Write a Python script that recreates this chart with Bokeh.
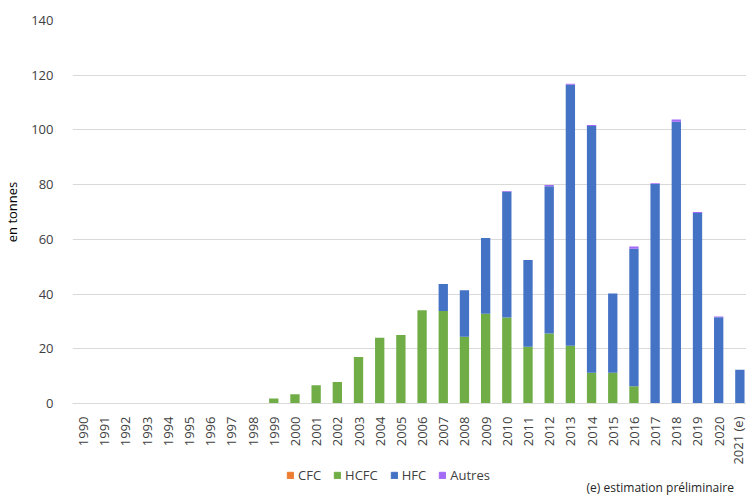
import math
from bokeh.plotting import figure
from bokeh.layouts import column
from bokeh.models import Range1d, FixedTicker, Legend, Label
from bokeh.embed import file_html
from bokeh.resources import INLINE

years = ["1990", "1991", "1992", "1993", "1994", "1995", "1996", "1997", "1998", "1999",
         "2000", "2001", "2002", "2003", "2004", "2005", "2006", "2007", "2008", "2009",
         "2010", "2011", "2012", "2013", "2014", "2015", "2016", "2017", "2018", "2019",
         "2020", "2021 (e)"]
cfc = [0] * 32
hcfc = [0, 0, 0, 0, 0, 0, 0, 0, 0, 1.8,
        3.4, 6.7, 7.9, 17.0, 24.0, 25.0, 34.1, 33.8, 24.4, 32.8,
        31.4, 20.7, 25.6, 21.1, 11.2, 11.2, 6.3, 0, 0, 0,
        0, 0]
hfc = [0, 0, 0, 0, 0, 0, 0, 0, 0, 0,
       0, 0, 0, 0, 0, 0, 0, 9.9, 17.0, 27.7,
       46.0, 31.8, 53.8, 95.4, 90.2, 29.0, 50.3, 80.2, 103.0, 69.6,
       31.5, 12.3]
autres = [0, 0, 0, 0, 0, 0, 0, 0, 0, 0,
          0, 0, 0, 0, 0, 0, 0, 0, 0, 0,
          0.3, 0, 0.5, 0.4, 0.4, 0, 0.8, 0.3, 0.8, 0.4,
          0.3, 0]
series = ["CFC", "HCFC", "HFC", "Autres"]
colors = ["#ED7D31", "#70AD47", "#4472C4", "#A36BF5"]
note_text = "(e) estimation préliminaire"

FONT = "Open Sans"
TXT = "#404040"

x = list(range(len(years)))
data = dict(x=x, CFC=cfc, HCFC=hcfc, HFC=hfc, Autres=autres)

step_px = 21.375
frame_w = 680
W = 746
H1 = 467
H2 = 28

p = figure(width=W, height=H1, output_backend="svg", toolbar_location=None,
           x_range=Range1d(-0.5, -0.5 + frame_w / step_px), y_range=Range1d(0, 140),
           min_border_left=66, min_border_right=0, min_border_top=20, min_border_bottom=64)
p.outline_line_color = None

rs = p.vbar_stack(series, x="x", width=0.44, color=colors, source=data, line_color=None)

yt = [0, 20, 40, 60, 80, 100, 120, 140]
p.xgrid.grid_line_color = None
p.ygrid.grid_line_color = "#D9D9D9"
p.ygrid.ticker = FixedTicker(ticks=yt)

p.yaxis.ticker = FixedTicker(ticks=yt)
p.yaxis.axis_line_color = None
p.yaxis.major_tick_line_color = None
p.yaxis.minor_tick_line_color = None
p.yaxis.major_label_standoff = 13
p.yaxis.major_label_text_font = FONT
p.yaxis.major_label_text_font_size = "13px"
p.yaxis.major_label_text_color = TXT
p.yaxis.axis_label = "en tonnes"
p.yaxis.axis_label_text_font = FONT
p.yaxis.axis_label_text_font_size = "13px"
p.yaxis.axis_label_text_font_style = "normal"
p.yaxis.axis_label_text_color = "#000000"
p.yaxis.axis_label_standoff = 7

p.xaxis.ticker = FixedTicker(ticks=x)
p.xaxis.major_label_overrides = {i: y for i, y in zip(x, years)}
p.xaxis.major_label_orientation = math.pi / 2
p.xaxis.axis_line_color = "#D9D9D9"
p.xaxis.major_tick_line_color = None
p.xaxis.minor_tick_line_color = None
p.xaxis.major_label_standoff = 7
p.xaxis.major_label_text_font = FONT
p.xaxis.major_label_text_font_size = "13px"
p.xaxis.major_label_text_color = TXT

# second strip: legend and footnote
q = figure(width=W, height=H2, output_backend="svg", toolbar_location=None,
           x_range=Range1d(0, W), y_range=Range1d(0, H2),
           x_axis_location=None, y_axis_location=None,
           min_border=0, min_border_left=0, min_border_right=0, min_border_top=0, min_border_bottom=0)
q.outline_line_color = None
q.grid.visible = False
nan = float("nan")
dummies = [q.vbar(x="x", top="top", width=1, color=c, source=dict(x=[nan], top=[nan]))
           for c in colors]

legend = Legend(items=[(s, [r]) for s, r in zip(series, dummies)], orientation="horizontal",
                location=(214, 11))
legend.glyph_width = 8
legend.glyph_height = 8
legend.label_height = 16
legend.label_standoff = 4
legend.spacing = 12
legend.padding = 0
legend.margin = 0
legend.border_line_color = None
legend.background_fill_alpha = 0
legend.label_text_font = FONT
legend.label_text_font_size = "13px"
legend.label_text_color = TXT
q.add_layout(legend, "center")

note = Label(x=569, y=8, text=note_text, text_font=FONT, text_font_size="12px",
             text_color="#262626", text_baseline="middle", text_align="left")
q.add_layout(note)

open("out.html", "w").write(file_html(column(p, q, spacing=0), INLINE))
